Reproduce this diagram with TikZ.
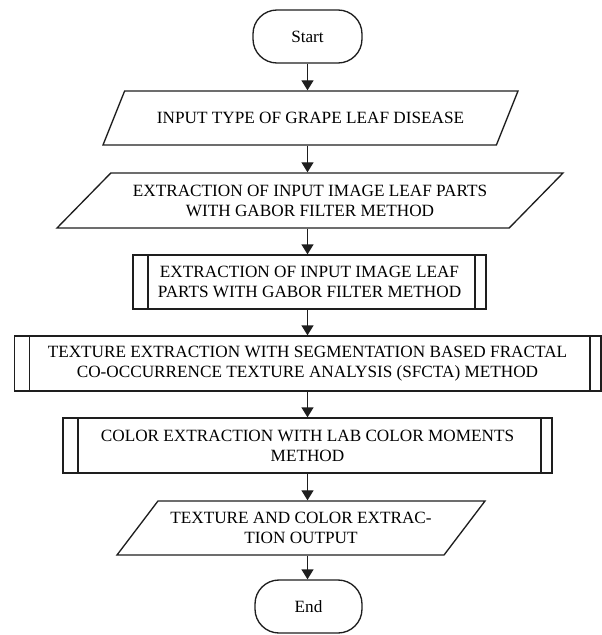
\documentclass[tikz,border=0pt]{standalone}
\usepackage{fontspec}
\setmainfont{Liberation Serif}
\usepackage{xcolor}
\usepackage{tikz}
\usetikzlibrary{arrows.meta, shapes.geometric}
\definecolor{flowline}{HTML}{1E1E1E}

\begin{document}
\begin{tikzpicture}[
    x=0.75pt, y=-0.75pt,
    every node/.style={font=\fontsize{12.9}{15}\selectfont, align=center, inner sep=2pt},
    terminal/.style={draw=flowline, line width=1pt, rounded corners=18pt, minimum width=81.75pt, minimum height=39.75pt},
    iobox/.style={draw=flowline, line width=1pt, trapezium, trapezium stretches body, minimum height=40.5pt},
    procbox/.style={draw=flowline, line width=1pt, minimum height=41.25pt,
        path picture={\draw[flowline, line width=1pt]
            ([xshift=11.25pt]path picture bounding box.north west) -- ([xshift=11.25pt]path picture bounding box.south west)
            ([xshift=-8.25pt]path picture bounding box.north east) -- ([xshift=-8.25pt]path picture bounding box.south east);}},
    flowarrow/.style={-{Triangle[length=7.5pt, width=9pt]}, line width=1pt, color=flowline}
]
\useasboundingbox (0,0) rectangle (602,635);

\node[terminal] (start) at (307.5,36.5) {Start};
\node[iobox, trapezium left angle=38, trapezium right angle=142, minimum width=311.25pt] (input) at (310.5,118) {INPUT TYPE OF GRAPE LEAF DISEASE};
\node[iobox, trapezium left angle=34.5, trapezium right angle=145.5, minimum width=379.5pt, minimum height=41.25pt] (leafparts) at (310,200.5) {EXTRACTION OF INPUT IMAGE LEAF PARTS\\WITH GABOR FILTER METHOD};
\node[procbox, minimum width=264.75pt, minimum height=40.5pt] (gabor) at (309.5,282) {EXTRACTION OF INPUT IMAGE LEAF\\PARTS WITH GABOR FILTER METHOD};
\node[procbox, minimum width=440pt] (sfcta) at (307.5,363.5) {TEXTURE EXTRACTION WITH SEGMENTATION BASED FRACTAL\\CO-OCCURRENCE TEXTURE ANALYSIS (SFCTA) METHOD};
\node[procbox, minimum width=366.75pt] (labcolor) at (307.5,445.5) {COLOR EXTRACTION WITH LAB COLOR MOMENTS\\METHOD};
\node[iobox, trapezium left angle=42, trapezium right angle=138, minimum width=276pt] (output) at (301,528) {TEXTURE AND COLOR EXTRAC-\\TION OUTPUT};
\node[terminal, minimum width=80.25pt] (finish) at (308.5,606.5) {End};

\foreach \a/\b in {start/input, input/leafparts, leafparts/gabor, gabor/sfcta, sfcta/labcolor, labcolor/output, output/finish}
    \draw[flowarrow] (start |- \a.south) -- (start |- \b.north);
\end{tikzpicture}
\end{document}
